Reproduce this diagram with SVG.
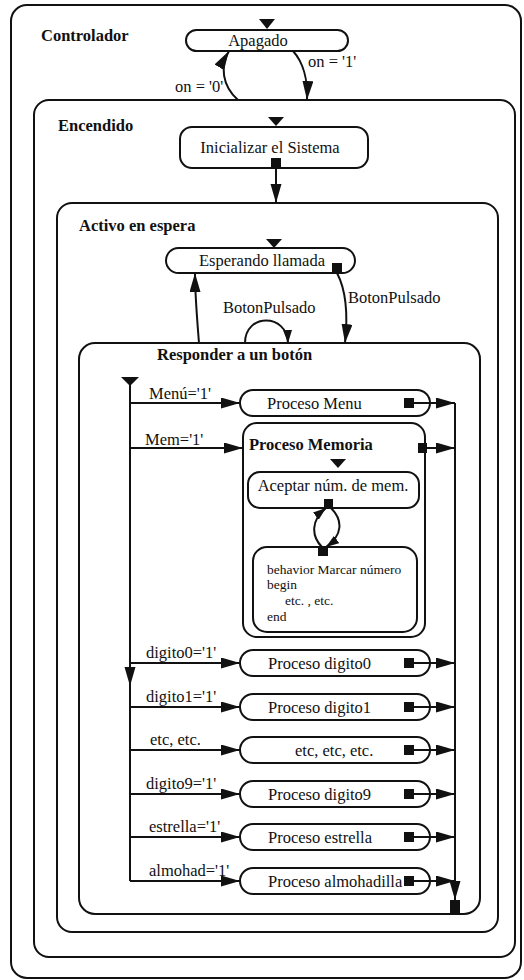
<svg xmlns="http://www.w3.org/2000/svg" width="524" height="980" viewBox="0 0 524 980">
  <style>
    .box { fill: none; stroke: #111; stroke-width: 2; }
    .node { fill: #fff; stroke: #111; stroke-width: 2; }
    .ln { fill: none; stroke: #111; stroke-width: 2; }
    .blk { fill: #111; stroke: none; }
    text { font-family: 'Liberation Serif', 'Times New Roman', 'DejaVu Serif', serif; font-size: 16.5px; fill: #111; }
    .b { font-weight: bold; }
    .m { text-anchor: middle; }
    .s { font-size: 13.5px; }
  </style>
  <defs>
    <marker id="arr" markerUnits="userSpaceOnUse" markerWidth="20" markerHeight="12" refX="19" refY="5.5" orient="auto">
      <path d="M0,0 L19,5.5 L0,11 z" fill="#111"/>
    </marker>
    <marker id="arrS" markerUnits="userSpaceOnUse" markerWidth="14" markerHeight="10" refX="13" refY="4.5" orient="auto">
      <path d="M0,0 L13,4.5 L0,9 z" fill="#111"/>
    </marker>
  </defs>

  <rect width="524" height="980" fill="#fff"/>

  <g font-family="Liberation Serif, Times New Roman, serif">
  <!-- superstate Controlador -->
  <g id="controlador">
    <rect class="box" x="11" y="5" width="510" height="973" rx="16"/>
    <text class="b" x="41" y="41">Controlador</text>
  </g>

  <g id="apagado">
    <polygon class="blk" points="259,19 275,19 267,29"/>
    <rect class="node" x="186" y="30" width="162" height="21" rx="10.5"/>
    <text class="m" x="258" y="46">Apagado</text>
  </g>

  <!-- superstate Encendido -->
  <g id="encendido">
    <rect class="box" x="34" y="100" width="481" height="857" rx="15"/>
    <text class="b" x="58" y="131">Encendido</text>
  </g>

  <g id="inicializar">
    <polygon class="blk" points="268,117 284,117 276,126"/>
    <rect class="node" x="180" y="127" width="188" height="41" rx="12"/>
    <text class="m" x="270" y="153">Inicializar el Sistema</text>
    <rect class="blk" x="271" y="158" width="10" height="10"/>
  </g>

  <!-- superstate Activo en espera -->
  <g id="activo">
    <rect class="box" x="57" y="203" width="441" height="729" rx="15"/>
    <text class="b" x="79" y="231">Activo en espera</text>
  </g>

  <g id="esperando">
    <polygon class="blk" points="266,239 282,239 274,248"/>
    <rect class="node" x="166" y="248" width="189" height="25" rx="12.5"/>
    <text class="m" x="262" y="266">Esperando llamada</text>
    <rect class="blk" x="332" y="263" width="10" height="10"/>
  </g>

  <!-- superstate Responder a un botón -->
  <g id="responder">
    <rect class="box" x="79" y="343" width="401" height="571" rx="16"/>
    <text class="b" x="157" y="360">Responder a un botón</text>
    <polygon class="blk" points="121,377 139,377 130,386"/>
    <rect class="blk" x="450" y="900" width="10" height="14"/>
  </g>

  <g id="proceso-menu">
    <rect class="node" x="240" y="390" width="190" height="26" rx="13"/>
    <text x="267" y="409">Proceso Menu</text>
    <rect class="blk" x="404" y="398" width="10" height="10"/>
  </g>

  <g id="proceso-memoria">
    <rect class="node" x="243" y="423" width="182" height="214" rx="14"/>
    <text class="b" x="249" y="450">Proceso Memoria</text>
    <rect class="blk" x="418" y="443" width="9" height="10"/>
    <polygon class="blk" points="330,459 346,459 338,468"/>
  </g>

  <g id="aceptar">
    <rect class="node" x="248" y="472" width="171" height="36" rx="12"/>
    <text class="m" x="333" y="491">Aceptar núm. de mem.</text>
    <rect class="blk" x="324" y="499" width="9" height="9"/>
  </g>

  <g id="marcar-numero">
    <rect class="node" x="253" y="547" width="164" height="85" rx="14"/>
    <rect class="blk" x="318" y="547" width="10" height="9"/>
    <text class="s" x="267" y="574">behavior Marcar número</text>
    <text class="s" x="267" y="589">begin</text>
    <text class="s" x="285" y="605">etc. , etc.</text>
    <text class="s" x="267" y="621">end</text>
  </g>

  <g id="proceso-digito0">
    <rect class="node" x="240" y="650" width="190" height="26" rx="13"/>
    <text x="268" y="669">Proceso digito0</text>
    <rect class="blk" x="404" y="658" width="10" height="10"/>
  </g>

  <g id="proceso-digito1">
    <rect class="node" x="240" y="694" width="190" height="26" rx="13"/>
    <text x="268" y="713">Proceso digito1</text>
    <rect class="blk" x="404" y="702" width="10" height="10"/>
  </g>

  <g id="proceso-etc">
    <rect class="node" x="240" y="737" width="190" height="26" rx="13"/>
    <text x="295" y="756">etc, etc, etc.</text>
    <rect class="blk" x="404" y="745" width="10" height="10"/>
  </g>

  <g id="proceso-digito9">
    <rect class="node" x="240" y="781" width="190" height="26" rx="13"/>
    <text x="268" y="800">Proceso digito9</text>
    <rect class="blk" x="404" y="789" width="10" height="10"/>
  </g>

  <g id="proceso-estrella">
    <rect class="node" x="240" y="824" width="190" height="26" rx="13"/>
    <text x="268" y="843">Proceso estrella</text>
    <rect class="blk" x="404" y="832" width="10" height="10"/>
  </g>

  <g id="proceso-almohadilla">
    <rect class="node" x="240" y="868" width="190" height="26" rx="13"/>
    <text x="268" y="887">Proceso almohadilla</text>
    <rect class="blk" x="404" y="876" width="10" height="10"/>
  </g>

  <!-- transitions -->
  <g id="connectors">
    <path class="ln" d="M238,100 C222,86 220,66 229,51" marker-end="url(#arr)"/>
    <text x="175" y="92">on = '0'</text>
    <path class="ln" d="M293,51 C303,62 308,80 307,100" marker-end="url(#arr)"/>
    <text x="308" y="67">on = '1'</text>

    <path class="ln" d="M276,168 L276,203" marker-end="url(#arr)"/>

    <path class="ln" d="M337,273 C346,290 348,315 345,343" marker-end="url(#arr)"/>
    <text x="348" y="303">BotonPulsado</text>
    <path class="ln" d="M199,343 C197,318 195,295 195,273" marker-end="url(#arr)"/>
    <path class="ln" d="M245,343 C245,313 287,313 288,343" marker-end="url(#arrS)"/>
    <text x="223" y="313">BotonPulsado</text>

    <!-- fan-out trunk -->
    <path class="ln" d="M130,385 L130,881"/>
    <path class="ln" d="M130,668 L130,686" marker-end="url(#arr)"/>

    <path class="ln" d="M130,403 L240,403" marker-end="url(#arr)"/>
    <text x="149" y="399">Menú='1'</text>
    <path class="ln" d="M130,448 L243,448" marker-end="url(#arr)"/>
    <text x="145" y="445">Mem='1'</text>
    <path class="ln" d="M130,663 L240,663" marker-end="url(#arr)"/>
    <text x="146" y="658">digito0='1'</text>
    <path class="ln" d="M130,707 L240,707" marker-end="url(#arr)"/>
    <text x="146" y="702">digito1='1'</text>
    <path class="ln" d="M130,750 L240,750" marker-end="url(#arr)"/>
    <text x="150" y="745">etc, etc.</text>
    <path class="ln" d="M130,794 L240,794" marker-end="url(#arr)"/>
    <text x="146" y="789">digito9='1'</text>
    <path class="ln" d="M130,837 L240,837" marker-end="url(#arr)"/>
    <text x="149" y="832">estrella='1'</text>
    <path class="ln" d="M130,881 L240,881" marker-end="url(#arr)"/>
    <text x="149" y="876">almohad='1'</text>

    <!-- fan-in trunk -->
    <path class="ln" d="M409,403 L455,403" marker-end="url(#arr)"/>
    <path class="ln" d="M423,448 L455,448" marker-end="url(#arr)"/>
    <path class="ln" d="M409,663 L455,663" marker-end="url(#arr)"/>
    <path class="ln" d="M409,707 L455,707" marker-end="url(#arr)"/>
    <path class="ln" d="M409,750 L455,750" marker-end="url(#arr)"/>
    <path class="ln" d="M409,794 L455,794" marker-end="url(#arr)"/>
    <path class="ln" d="M409,837 L455,837" marker-end="url(#arr)"/>
    <path class="ln" d="M409,881 L455,881" marker-end="url(#arr)"/>
    <path class="ln" d="M455,403 L455,900" marker-end="url(#arr)"/>

    <!-- Aceptar / Marcar número loop -->
    <path class="ln" d="M322,547 C311,536 311,520 326,508" marker-end="url(#arrS)"/>
    <path class="ln" d="M331,508 C343,520 343,535 326,547" marker-end="url(#arrS)"/>
  </g>
  </g>
</svg>
